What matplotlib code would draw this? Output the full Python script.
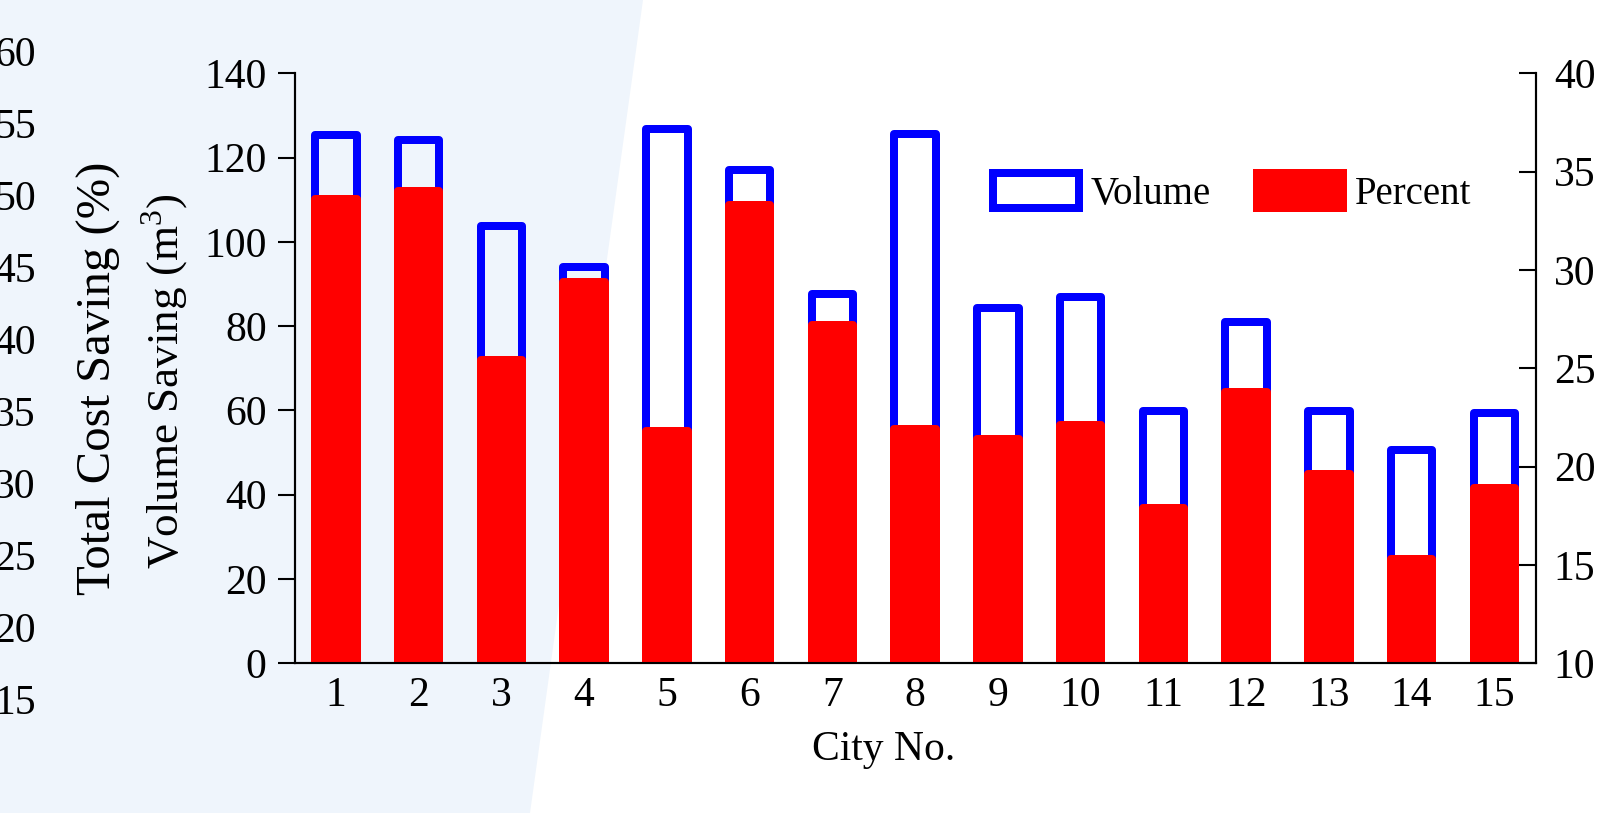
import numpy as np
import matplotlib.pyplot as plt
from matplotlib.patches import Polygon

# values
cities = np.arange(1, 16)
volume = [125.3, 124.1, 103.8, 94.0, 126.8, 117.0, 87.7, 125.6,
          84.2, 86.9, 59.8, 81.0, 59.8, 50.7, 59.5]
percent = [33.6, 34.0, 25.4, 29.4, 21.8, 33.3, 27.2, 21.9,
           21.4, 22.1, 17.9, 23.8, 19.6, 15.3, 18.9]
volume_ticks = [0, 20, 40, 60, 80, 100, 120, 140]
percent_ticks = [10, 15, 20, 25, 30, 35, 40]
cost_ticks = [15, 20, 25, 30, 35, 40, 45, 50, 55, 60]

plt.rcParams['font.family'] = 'Liberation Serif'
plt.rcParams['mathtext.fontset'] = 'custom'
plt.rcParams['mathtext.rm'] = 'Liberation Serif'

W, H = 1617, 813
fig = plt.figure(figsize=(W/100, H/100), dpi=100)

# light blue panel behind the left part of the picture
panel = Polygon([(0, 0), (530/W, 0), (643/W, 1), (0, 1)], closed=True,
                transform=fig.transFigure, facecolor='#eff5fc',
                edgecolor='none', zorder=-1)
fig.add_artist(panel)

lw = 5.76

ax = fig.add_axes([294.5/W, 1 - 663.3/H, 1241.2/W, 590/H])
ax.patch.set_visible(False)
ax.bar(cities, volume, width=0.5, facecolor='none', edgecolor='#0000ff',
       linewidth=lw, joinstyle='round', label='Volume')
ax.set_xlim(0.5, 15.5)
ax.set_ylim(0, 140)
ax.set_yticks(volume_ticks)
ax.set_xticks(cities)

ax2 = ax.twinx()
ax2.bar(cities, percent, width=0.5, color='#ff0000', edgecolor='#ff0000',
        linewidth=lw, joinstyle='round', label='Percent')
ax2.set_ylim(10, 40)
ax2.set_yticks(percent_ticks)

for a in (ax, ax2):
    a.spines['top'].set_visible(False)
    for s in ('left', 'right', 'bottom'):
        a.spines[s].set_linewidth(1.5)

ax.tick_params(axis='y', direction='out', length=12, width=1.5, pad=8,
               labelsize=30)
ax.tick_params(axis='x', length=0, pad=9.5, labelsize=30)
ax2.tick_params(axis='y', direction='in', length=12, width=1.5, pad=13,
                labelsize=30)

# leftover cost axis, only its labels show at the left edge
ax3 = fig.add_axes([40/W, 1 - 699/H, 0.005, (699 - 51.6)/H])
ax3.patch.set_visible(False)
for s in ax3.spines.values():
    s.set_visible(False)
ax3.set_ylim(15, 60)
ax3.set_yticks(cost_ticks)
ax3.set_xticks([])
ax3.tick_params(axis='y', length=0, pad=3, labelsize=30)

fig.text(98/W, 1 - 378/H, 'Total Cost Saving (%)', rotation=90,
         ha='center', va='center', fontsize=35)
fig.text(165/W, 1 - 381.5/H, 'Volume Saving (m$^{3}$)', rotation=90,
         ha='center', va='center', fontsize=32.5)
fig.text(884/W, 1 - 760/H, 'City No.', ha='center', va='baseline',
         fontsize=30)

h1, l1 = ax.get_legend_handles_labels()
h2, l2 = ax2.get_legend_handles_labels()
fig.legend(h1 + h2, l1 + l2, loc='upper left',
           bbox_to_anchor=(993.3/W, 1 - 173/H), ncol=2, frameon=False,
           fontsize=28, handlelength=2.2, handleheight=1.0,
           handletextpad=0.3, columnspacing=1.2, borderpad=0,
           borderaxespad=0)

fig.savefig('out.png', dpi=100)
